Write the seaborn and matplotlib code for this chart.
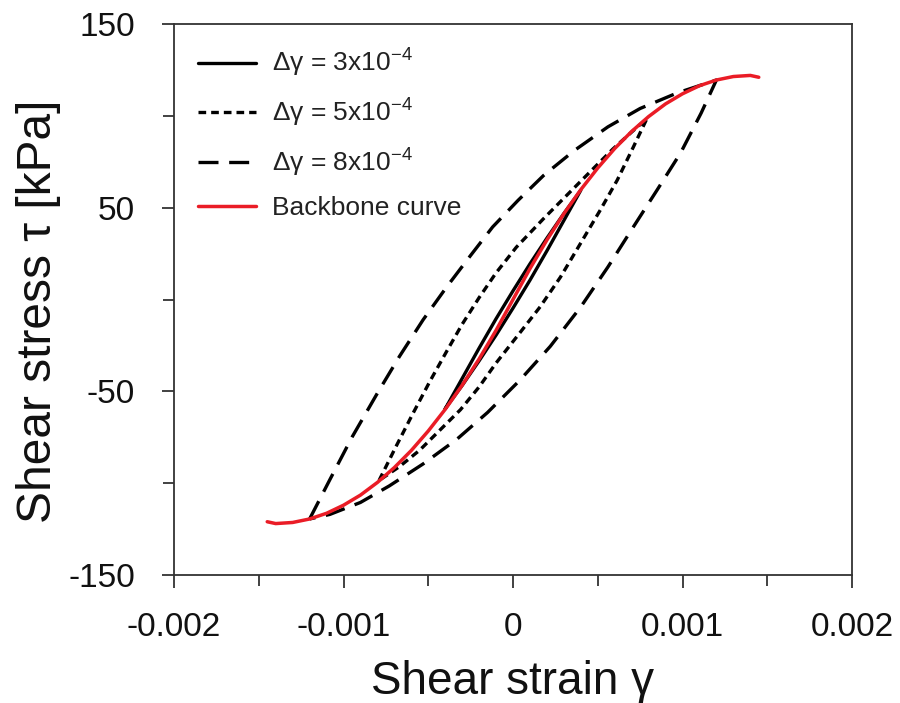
import matplotlib
matplotlib.use("Agg")
import matplotlib.pyplot as plt
import seaborn as sns
import pandas as pd
from matplotlib.ticker import FixedLocator, FixedFormatter

sns.set_theme(style="white")
plt.rcParams['font.family'] = ['Liberation Sans', 'DejaVu Sans']
plt.rcParams['mathtext.fontset'] = 'custom'
plt.rcParams['mathtext.rm'] = 'Liberation Sans'
plt.rcParams['mathtext.it'] = 'Liberation Sans:italic'
plt.rcParams['mathtext.default'] = 'regular'

# ---------------- data ----------------
backbone_gamma = [-0.00145, -0.0014, -0.0013, -0.0012, -0.0011, -0.0010, -0.0009, -0.0008,
                  -0.0007, -0.0006, -0.0005, -0.0004, -0.0003, -0.0002, -0.0001, 0.0,
                  0.0001, 0.0002, 0.0003, 0.0004, 0.0005, 0.0006, 0.0007, 0.0008,
                  0.0009, 0.0010, 0.0011, 0.0012, 0.0013, 0.0014, 0.00145]
backbone_tau = [-121.0, -122.0, -121.4, -119.5, -116.4, -112.0, -106.5, -99.6,
                -91.5, -82.2, -71.6, -59.8, -46.7, -32.4, -16.8, 0.0,
                16.8, 32.4, 46.7, 59.8, 71.6, 82.2, 91.5, 99.6,
                106.5, 112.0, 116.4, 119.5, 121.4, 122.0, 121.0]

# loop for dgamma = 3e-4 (upper branch then lower branch)
loop3_gamma = [-0.0004, -0.0003, -0.0002, -0.0001, 0.0, 0.0001, 0.0002, 0.0003, 0.0004,
               0.0003, 0.0002, 0.0001, 0.0, -0.0001, -0.0002, -0.0003, -0.0004]
loop3_tau = [-59.5, -43.0, -26.5, -10.5, 4.7, 19.4, 33.4, 46.8, 59.5,
             43.0, 26.5, 10.5, -4.7, -19.4, -33.4, -46.8, -59.5]

# loop for dgamma = 5e-4
loop5_gamma = [-0.00079, -0.00069, -0.00059, -0.00049, -0.00039, -0.0003, -0.0002, -0.0001,
               0.00002, 0.00018, 0.00032, 0.00046, 0.00059, 0.00071, 0.00079,
               0.00071, 0.000615, 0.000515, 0.0004, 0.00028, 0.00016, 0.00004,
               -0.0001, -0.0002, -0.00031, -0.00043, -0.00055, -0.00067, -0.00079]
loop5_tau = [-98.5, -80.0, -62.0, -44.5, -28.0, -13.5, 1.0, 14.5,
             28.5, 44.0, 57.0, 70.0, 82.0, 92.0, 98.5,
             83.0, 65.0, 48.7, 30.8, 12.2, -4.0, -18.2,
             -34.6, -47.6, -60.0, -71.0, -82.0, -91.0, -98.5]

# loop for dgamma = 8e-4
loop8_gamma = [-0.0012, -0.00108, -0.00095, -0.0008, -0.00067, -0.00053, -0.00039, -0.00025,
               -0.00012, 0.00003, 0.00018, 0.00036, 0.00056, 0.00075, 0.00097, 0.0012,
               0.00111, 0.00099, 0.00085, 0.00071, 0.00056, 0.0004, 0.00022, 0.00004,
               -0.00015, -0.00033, -0.00053, -0.00073, -0.0009, -0.00108, -0.0012]
loop8_tau = [-119.5, -98.0, -75.0, -51.0, -31.0, -11.0, 7.0, 24.0,
             39.5, 54.0, 67.5, 81.0, 94.0, 104.0, 112.5, 119.5,
             101.5, 80.0, 59.6, 39.5, 17.7, -4.0, -25.5, -44.0,
             -61.5, -76.0, -89.5, -101.5, -110.5, -117.0, -119.5]

labels = [r"Δγ = 3x10$^{-4}$", r"Δγ = 5x10$^{-4}$", r"Δγ = 8x10$^{-4}$", "Backbone curve"]

x_ticks = [-0.002, -0.001, 0.0, 0.001, 0.002]
x_ticklabels = ["-0.002", "-0.001", "0", "0.001", "0.002"]
x_minor = [-0.0015, -0.0005, 0.0005, 0.0015]
y_ticks = [-150, -50, 50, 150]
y_ticklabels = ["-150", "-50", "50", "150"]
y_minor = [-100, 0, 100]

# ---------------- figure ----------------
fig = plt.figure(figsize=(9.0, 7.03), dpi=100)
ax = fig.add_axes([174/900, 1 - 575/703, (852-174)/900, (575-24)/703])

lw = 2.4
sns.lineplot(x=loop3_gamma, y=loop3_tau, sort=False, estimator=None, ax=ax,
             color="black", linewidth=lw, label=labels[0])
sns.lineplot(x=loop5_gamma, y=loop5_tau, sort=False, estimator=None, ax=ax,
             color="black", linewidth=lw, linestyle=(0, (2.3, 1.5)), label=labels[1])
sns.lineplot(x=loop8_gamma, y=loop8_tau, sort=False, estimator=None, ax=ax,
             color="black", linewidth=lw, linestyle=(0, (6.0, 3.2)), label=labels[2])
sns.lineplot(x=backbone_gamma, y=backbone_tau, sort=False, estimator=None, ax=ax,
             color="#ea1c26", linewidth=2.5, label=labels[3])

ax.set_xlim(-0.002, 0.002)
ax.set_ylim(-150, 150)
ax.xaxis.set_major_locator(FixedLocator(x_ticks))
ax.xaxis.set_major_formatter(FixedFormatter(x_ticklabels))
ax.xaxis.set_minor_locator(FixedLocator(x_minor))
ax.yaxis.set_major_locator(FixedLocator(y_ticks))
ax.yaxis.set_major_formatter(FixedFormatter(y_ticklabels))
ax.yaxis.set_minor_locator(FixedLocator(y_minor))

ax.tick_params(axis="both", which="major", direction="out", length=9, width=1.3,
               color="#333333", labelsize=24, labelcolor="#111111")
ax.tick_params(axis="x", which="major", pad=18)
ax.tick_params(axis="y", which="major", pad=19)
ax.tick_params(axis="both", which="minor", direction="out", length=8, width=1.3,
               color="#333333")
ax.tick_params(bottom=True, left=True, top=False, right=False, which="both")

for s in ax.spines.values():
    s.set_color("#333333")
    s.set_linewidth(1.3)
    s.set_visible(True)

ax.set_xlabel("Shear strain γ", fontsize=33, color="#111111", labelpad=12)
ax.set_ylabel("Shear stress τ [kPa]", fontsize=34.5, color="#111111", labelpad=3)
ax.yaxis.set_label_coords(-0.166, 0.478)

leg = ax.legend(loc="upper left", bbox_to_anchor=(0.035, 0.958), frameon=False,
                fontsize=19, handlelength=2.2, handletextpad=0.6, labelspacing=0.66,
                borderpad=0, borderaxespad=0)
for t in leg.get_texts():
    t.set_color("#222222")

fig.savefig("out.png", dpi=100, facecolor="white")
